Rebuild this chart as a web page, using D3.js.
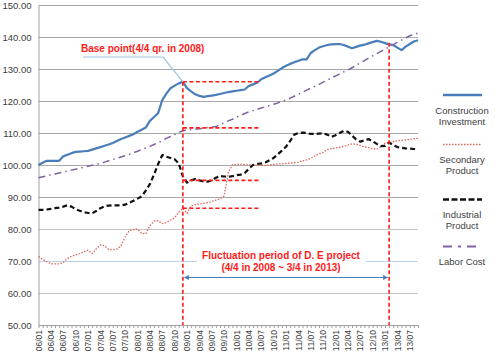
<!DOCTYPE html>
<html><head><meta charset="utf-8">
<script src="https://cdn.jsdelivr.net/npm/d3@7"></script>
<style>body{margin:0;background:#fff}svg{display:block}text{font-family:"Liberation Sans",Arial,sans-serif}</style>
</head><body><svg id="c" width="500" height="359"></svg>
<script>
const tickLabels = ["06/01","06/04","06/07","06/10","07/01","07/04","07/07","07/10","08/01","08/04","08/07","08/10","09/01","09/04","09/07","09/10","10/01","10/04","10/07","10/10","11/01","11/04","11/07","11/10","12/01","12/04","12/07","12/10","13/01","13/04","13/07"];
const categories = [];
for (let yr = 6; yr <= 13; yr++) for (let m = 1; m <= 12; m++) {
  if (yr === 13 && m > 9) break;
  categories.push(String(yr).padStart(2,"0") + "/" + String(m).padStart(2,"0"));
}
const constructionInvestment = [100.0,100.7,101.3,101.3,101.3,101.3,102.7,103.2,103.7,104.1,104.2,104.3,104.4,104.8,105.2,105.6,106.0,106.4,106.9,107.5,108.1,108.6,109.1,109.6,110.4,111.0,111.7,113.8,115.0,116.2,120.3,122.3,124.0,124.8,125.5,126.0,124.0,123.0,122.1,121.6,121.3,121.5,121.7,121.9,122.2,122.5,122.8,123.0,123.2,123.4,123.6,124.7,125.2,125.7,126.8,127.4,128.0,128.6,129.4,130.3,131.0,131.6,132.1,132.6,133.0,133.0,135.0,135.9,136.7,137.1,137.5,137.7,137.8,137.8,137.5,137.0,136.5,136.9,137.3,137.6,138.0,138.4,138.8,138.5,138.1,137.7,137.5,136.7,135.9,137.0,137.8,138.6,139.0];
const secondaryProduct = [71.4,70.5,69.8,69.1,69.1,69.1,69.5,70.8,71.5,71.9,72.3,72.9,73.4,72.3,73.8,75.0,74.8,73.6,73.5,73.7,74.8,77.5,79.5,79.8,80.0,78.6,78.5,81.0,82.5,82.6,81.7,82.0,82.8,83.5,85.3,86.4,84.9,87.2,87.6,87.8,88.0,88.2,88.6,89.0,89.4,90.3,97.5,100.1,100.2,100.3,100.1,100.0,100.0,99.9,100.0,99.8,100.0,100.2,100.3,100.4,100.5,100.6,100.7,100.9,101.3,101.6,102.1,102.8,103.5,103.9,104.8,105.1,105.3,105.5,105.8,106.2,106.6,106.5,106.1,105.7,105.4,105.1,104.9,105.8,106.8,107.0,107.3,107.6,107.7,107.8,108.0,108.2,108.3];
const industrialProduct = [86.0,86.0,86.1,86.3,86.5,86.7,87.0,87.4,87.0,86.2,85.7,85.3,85.0,84.9,85.6,86.5,87.1,87.3,87.4,87.4,87.4,87.6,88.2,88.8,89.5,90.2,92.0,94.0,97.0,100.3,103.1,102.6,102.2,101.8,100.5,96.4,94.5,95.2,95.6,95.2,94.9,94.8,95.2,96.0,96.6,96.4,96.3,96.5,96.8,97.0,97.5,98.8,100.0,100.3,100.5,100.8,101.5,102.2,103.3,104.5,105.7,107.5,109.5,110.0,110.1,110.0,109.7,109.7,109.8,109.9,109.5,108.8,109.3,110.0,110.7,110.4,109.2,108.0,107.3,107.7,108.1,107.4,106.6,105.9,106.0,107.0,106.2,105.6,105.4,105.2,105.1,105.0,104.9];
const laborCost = [96.0,96.3,96.6,96.9,97.2,97.5,97.8,98.1,98.4,98.7,99.0,99.3,99.6,99.9,100.2,100.5,100.9,101.3,101.7,102.1,102.5,102.9,103.3,103.8,104.3,104.8,105.3,105.8,106.4,107.0,107.6,108.3,108.9,109.5,110.2,110.7,110.9,111.1,111.2,111.3,111.5,111.7,111.8,112.0,112.6,113.2,113.8,114.3,114.9,115.5,116.1,116.6,117.0,117.4,117.8,118.2,118.6,119.0,119.4,119.9,120.3,120.9,121.5,122.1,122.7,123.4,124.0,124.6,125.2,125.9,126.5,127.2,127.8,128.5,129.1,129.7,130.4,131.1,131.9,132.6,133.4,134.1,134.8,135.5,136.2,136.9,137.6,138.3,139.0,139.7,140.4,140.8,141.2];
const yTicks = [50,60,70,80,90,100,110,120,130,140,150];
const baseLevels = [126.0, 111.6, 95.2, 86.5];
const baseMonth = "08/12", endMonth = "13/02", levelEnd = "10/06";

const svg = d3.select("#c");
const x = d3.scalePoint().domain(categories).range([38.5, 418]);
const y = d3.scaleLinear().domain([50,150]).range([325,5]);

// gridlines
svg.append("g").selectAll("line").data(yTicks.filter(d => d > 50)).join("line")
  .attr("x1", 38.5).attr("x2", 418).attr("y1", d => Math.round(y(d))+0.5).attr("y2", d => Math.round(y(d))+0.5)
  .attr("stroke", d => d === 70 ? "#bcd0e8" : (d===80||d===60) ? "#c4c4c4" : "#a8a8a8").attr("stroke-width", 1);

// y axis
const ya = svg.append("g").attr("transform","translate(38.5,0)")
  .call(d3.axisLeft(y).tickValues(yTicks).tickSize(0).tickPadding(7).tickFormat(d3.format(".2f")));
ya.select(".domain").attr("stroke","#a0a0a0");
ya.selectAll("text").attr("font-size", 9.5).attr("fill","#404040");

// x axis
const xa = svg.append("g").attr("transform","translate(0,325)")
  .call(d3.axisBottom(x).tickValues(categories).tickSize(3).tickSizeOuter(0)
    .tickFormat(d => tickLabels.includes(d) ? d : ""));
xa.select(".domain").attr("stroke","#a0a0a0");
xa.selectAll(".tick line").attr("stroke","#a0a0a0");
xa.selectAll("text").attr("font-size", 8.5).attr("fill","#404040")
  .attr("transform","rotate(-90)").attr("text-anchor","end").attr("dy","0.32em").attr("x", -5).attr("y", 0);

// fluctuation text background
svg.append("rect").attr("x",197).attr("y",246).attr("width",169).attr("height",27).attr("fill","#fff");

const line = d3.line().x((d,i) => x(categories[i])).y(d => y(d));
const series = [
  {name:"Construction Investment", data: constructionInvestment, color:"#4a7ebb", w:2.2, dash:null},
  {name:"Secondary Product", data: secondaryProduct, color:"#e0645a", w:1.3, dash:"1.5,1.5"},
  {name:"Industrial Product", data: industrialProduct, color:"#111", w:2.2, dash:"5,3"},
  {name:"Labor Cost", data: laborCost, color:"#8064a2", w:1.5, dash:"7,4,1.5,4"}
];
series.forEach(s => {
  svg.append("path").datum(s.data).attr("d", line).attr("fill","none")
    .attr("stroke", s.color).attr("stroke-width", s.w).attr("stroke-dasharray", s.dash)
    .attr("stroke-linejoin","round");
});

// red annotations
const red = "#ff1a1a";
const bx = x(baseMonth), ex = x(endMonth), lx = x(levelEnd) + 2;
svg.append("line").attr("x1",bx).attr("x2",bx).attr("y1",y(baseLevels[0])).attr("y2",325)
  .attr("stroke",red).attr("stroke-width",1.6).attr("stroke-dasharray","4,2.5");
svg.append("line").attr("x1",ex).attr("x2",ex).attr("y1",y(138.2)).attr("y2",325)
  .attr("stroke",red).attr("stroke-width",1.6).attr("stroke-dasharray","4,2.5");
svg.append("g").selectAll("line").data(baseLevels).join("line")
  .attr("x1",bx).attr("x2",lx).attr("y1",d=>y(d)).attr("y2",d=>y(d))
  .attr("stroke",red).attr("stroke-width",1.6).attr("stroke-dasharray","4,2.5");

// base point label + leader
svg.append("path").attr("d",`M83,57 L163,57 L${bx},${y(baseLevels[0])}`)
  .attr("fill","none").attr("stroke","#9dc3e6").attr("stroke-width",1.2);
svg.append("text").attr("x",81).attr("y",51.5).attr("font-size",10).attr("font-weight","bold")
  .attr("fill",red).text("Base point(4/4 qr. in 2008)");

svg.append("text").attr("x",281).attr("y",258.5).attr("text-anchor","middle").attr("font-size",10)
  .attr("font-weight","bold").attr("fill",red).text("Fluctuation period of D. E project");
svg.append("text").attr("x",281).attr("y",270.5).attr("text-anchor","middle").attr("font-size",10)
  .attr("font-weight","bold").attr("fill",red).text("(4/4 in 2008 ~ 3/4 in 2013)");

// double arrow
const defs = svg.append("defs");
defs.append("marker").attr("id","ah").attr("viewBox","0 0 10 10").attr("refX",9).attr("refY",5)
  .attr("markerWidth",5).attr("markerHeight",5).attr("orient","auto-start-reverse")
  .append("path").attr("d","M0,0 L10,5 L0,10 z").attr("fill","#4a7ebb");
svg.append("line").attr("x1",bx+1.5).attr("x2",ex-1.5).attr("y1",277.5).attr("y2",277.5)
  .attr("stroke","#4a7ebb").attr("stroke-width",1)
  .attr("marker-start","url(#ah)").attr("marker-end","url(#ah)");

// legend
const legY = [95, 144.5, 199.5, 246.5];
const legLabels = [["Construction","Investment"],["Secondary","Product"],["Industrial","Product"],["Labor Cost"]];
series.forEach((s,i) => {
  svg.append("line").attr("x1",443).attr("x2",482).attr("y1",legY[i]).attr("y2",legY[i])
    .attr("stroke",s.color).attr("stroke-width",s.w+0.3)
    .attr("stroke-dasharray", i===3 ? "9,6,3,6" : i===2 ? "6,2.5" : s.dash);
  legLabels[i].forEach((t,j) => {
    svg.append("text").attr("x",462).attr("y",legY[i] + 18.5 + j*11).attr("text-anchor","middle")
      .attr("font-size",9.5).attr("fill","#404040").text(t);
  });
});
</script></body></html>
